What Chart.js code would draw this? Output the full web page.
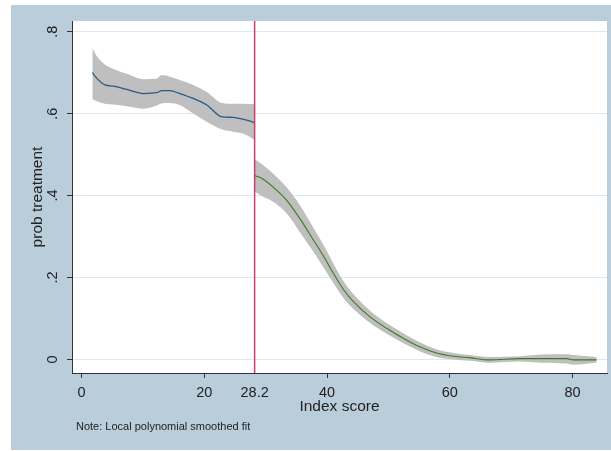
<!DOCTYPE html>
<html>
<head>
<meta charset="utf-8">
<title>prob treatment by Index score</title>
<script src="https://cdn.jsdelivr.net/npm/chart.js@4.4.1/dist/chart.umd.min.js"></script>
<style>
  html, body { margin: 0; padding: 0; background: #ffffff; }
  canvas { display: block; }
</style>
</head>
<body>
<canvas id="rd" width="611" height="451"></canvas>
<script>
// Cutoff on the running variable
const cutoff = 28.2;

// Left of the cutoff: smoothed fit and its confidence band
const leftX   = [1.76, 2.5, 3.8, 5.2, 7.4, 10.1, 12.2, 13.1, 14.4, 16.0, 18.2, 20.4, 22.9, 24.7, 26.4, 28.2];
const leftFit = [0.700, 0.686, 0.670, 0.667, 0.659, 0.649, 0.651, 0.656, 0.656, 0.649, 0.637, 0.621, 0.592, 0.591, 0.586, 0.578];
const leftHi  = [0.760, 0.740, 0.720, 0.709, 0.697, 0.684, 0.685, 0.694, 0.690, 0.682, 0.670, 0.653, 0.626, 0.624, 0.624, 0.623];
const leftLo  = [0.635, 0.630, 0.624, 0.622, 0.618, 0.612, 0.619, 0.625, 0.626, 0.621, 0.600, 0.580, 0.561, 0.556, 0.551, 0.536];

// Right of the cutoff: smoothed fit and its confidence band
const rightX   = [28.2, 29.6, 31.2, 33.4, 35.6, 37.8, 39.7, 41.0, 42.6, 44.3, 47.0, 49.7, 52.4, 55.1, 57.8, 60.6, 63.3, 66.5, 71.4, 75.0, 79.0, 80.1, 83.9];
const rightFit = [0.449, 0.440, 0.421, 0.389, 0.343, 0.291, 0.245, 0.211, 0.172, 0.141, 0.104, 0.076, 0.052, 0.031, 0.016, 0.008, 0.004, -0.001, 0.002, 0.002, 0.002, -0.001, -0.001];
const rightHi  = [0.489, 0.474, 0.454, 0.420, 0.376, 0.321, 0.272, 0.235, 0.193, 0.159, 0.119, 0.089, 0.064, 0.042, 0.025, 0.016, 0.011, 0.006, 0.008, 0.012, 0.013, 0.011, 0.006];
const rightLo  = [0.410, 0.397, 0.385, 0.357, 0.310, 0.262, 0.218, 0.187, 0.151, 0.123, 0.089, 0.063, 0.040, 0.020, 0.006, 0.000, -0.003, -0.008, -0.005, -0.008, -0.010, -0.013, -0.008];

// Axis ticks and labels
const xTicks = [0, 20, 28.2, 40, 60, 80];
const yTicks = [0, 0.2, 0.4, 0.6, 0.8];
const yTickLabels = ['0', '.2', '.4', '.6', '.8'];
const xTitle = 'Index score';
const yTitle = 'prob treatment';
const noteText = 'Note: Local polynomial smoothed fit';

const FONT = '"Liberation Sans", Arial, sans-serif';
const BAND = '#bfbfbf';
const AXIS = '#333333';
const GRID = '#dde9ee';
const REGION = '#bacdda';

const pts = (xs, ys) => xs.map((x, i) => ({ x: x, y: ys[i] }));

function bandPair(xs, lo, hi) {
  return [
    { data: pts(xs, lo), borderWidth: 0, pointRadius: 0, fill: false, order: 2,
      cubicInterpolationMode: 'monotone' },
    { data: pts(xs, hi), borderWidth: 0, pointRadius: 0, fill: '-1', backgroundColor: BAND, order: 2,
      cubicInterpolationMode: 'monotone' }
  ];
}

// Graph region, plot region, cutoff line, rotated y labels and the note
const decor = {
  id: 'decor',
  beforeDraw(chart) {
    const { ctx, chartArea: a } = chart;
    ctx.save();
    ctx.fillStyle = '#ffffff';
    ctx.fillRect(0, 0, chart.width, chart.height);
    ctx.fillStyle = REGION;
    ctx.fillRect(11, 5, chart.width - 11, chart.height - 6);
    ctx.fillStyle = '#ffffff';
    ctx.fillRect(a.left, a.top, a.right - a.left, a.bottom - a.top);
    ctx.restore();
  },
  afterDatasetsDraw(chart) {
    const { ctx, chartArea: a, scales } = chart;
    const px = scales.x.getPixelForValue(cutoff);
    ctx.save();
    ctx.strokeStyle = '#cf3f67';
    ctx.lineWidth = 1.5;
    ctx.beginPath();
    ctx.moveTo(px, a.top);
    ctx.lineTo(px, a.bottom);
    ctx.stroke();
    ctx.restore();
  },
  afterDraw(chart) {
    const { ctx, scales } = chart;
    ctx.save();
    ctx.fillStyle = '#222222';
    ctx.font = '14.5px ' + FONT;
    ctx.textAlign = 'center';
    ctx.textBaseline = 'middle';
    yTicks.forEach((v, i) => {
      const py = scales.y.getPixelForValue(v);
      ctx.save();
      ctx.translate(53, py);
      ctx.rotate(-Math.PI / 2);
      ctx.fillText(yTickLabels[i], 0, 0);
      ctx.restore();
    });
    ctx.font = '11px ' + FONT;
    ctx.textAlign = 'left';
    ctx.fillText(noteText, 76, 427);
    ctx.restore();
  }
};

new Chart(document.getElementById('rd'), {
  type: 'line',
  data: {
    datasets: [
      { data: pts(leftX, leftFit), borderColor: '#2a5a85', borderWidth: 1.3, pointRadius: 0,
        fill: false, order: 0, cubicInterpolationMode: 'monotone' },
      { data: pts(rightX, rightFit), borderColor: '#3b7a22', borderWidth: 1.1, pointRadius: 0,
        fill: false, order: 0, cubicInterpolationMode: 'monotone' },
      ...bandPair(leftX, leftLo, leftHi),
      ...bandPair(rightX, rightLo, rightHi)
    ]
  },
  options: {
    responsive: false,
    animation: false,
    devicePixelRatio: 1,
    layout: { padding: { top: 21, right: 4, left: 0, bottom: 0 } },
    plugins: { legend: { display: false }, tooltip: { enabled: false } },
    scales: {
      x: {
        type: 'linear',
        min: -1.55,
        max: 85.6,
        afterBuildTicks: s => { s.ticks = xTicks.map(v => ({ value: v })); },
        afterFit: s => { s.height = 78; },
        grid: {
          drawOnChartArea: false,
          tickLength: 5,
          tickColor: c => (c.tick && c.tick.value === cutoff) ? 'rgba(0,0,0,0)' : AXIS
        },
        border: { color: AXIS, width: 1 },
        ticks: {
          padding: 6,
          color: '#222222',
          font: { family: FONT, size: 14.5 },
          maxRotation: 0,
          autoSkip: false,
          callback: v => String(v)
        },
        title: {
          display: true,
          text: xTitle,
          color: '#222222',
          font: { family: FONT, size: 15.5 },
          padding: { top: 0, bottom: 35 }
        }
      },
      y: {
        type: 'linear',
        min: -0.033,
        max: 0.826,
        afterBuildTicks: s => { s.ticks = yTicks.map(v => ({ value: v })); },
        afterFit: s => { s.width = 72; },
        grid: { color: GRID, lineWidth: 1, tickLength: 5, tickColor: AXIS },
        border: { color: AXIS, width: 1 },
        ticks: { display: false },
        title: {
          display: true,
          text: yTitle,
          color: '#222222',
          font: { family: FONT, size: 15.5 },
          padding: { top: 28.7, bottom: 0 }
        }
      }
    }
  },
  plugins: [decor]
});
</script>
</body>
</html>
